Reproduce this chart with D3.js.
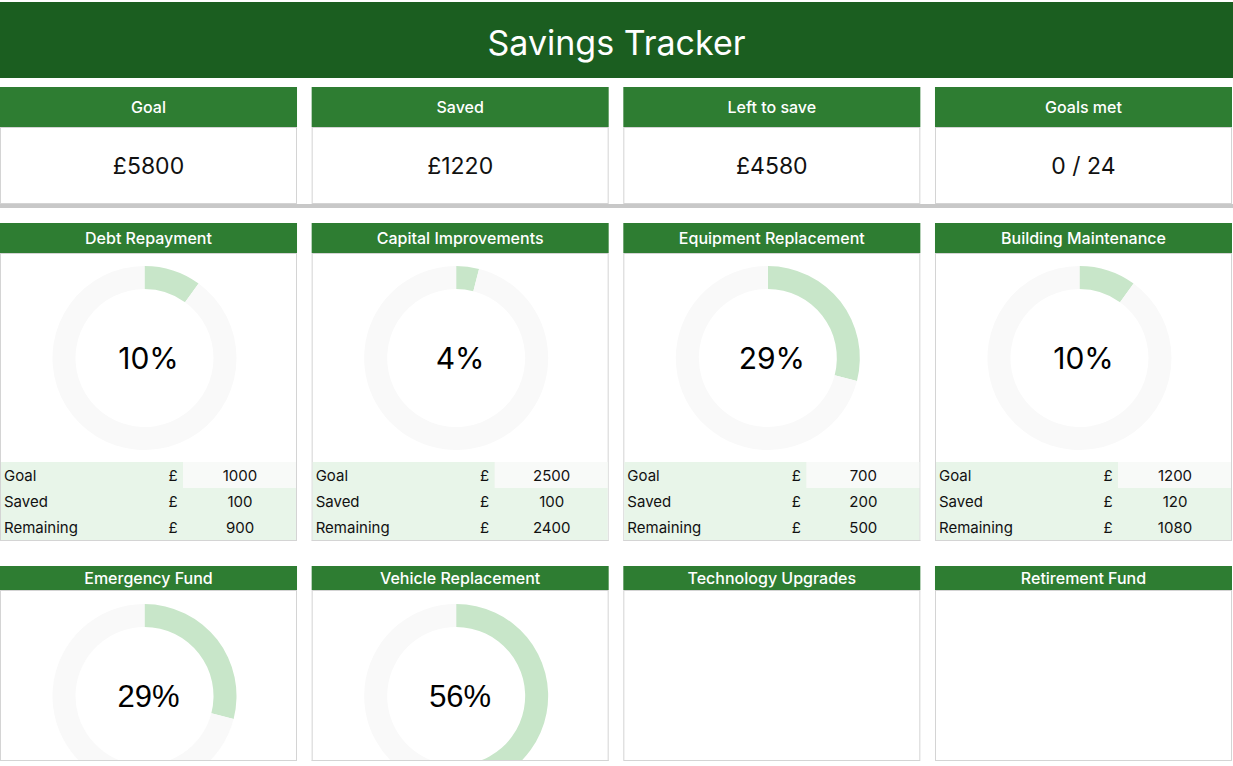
<!DOCTYPE html>
<html>
<head>
<meta charset="utf-8">
<script src="https://cdn.jsdelivr.net/npm/d3@7"></script>
<style>
  html, body { margin: 0; padding: 0; background: #fff; overflow: hidden; }
  svg { display: block; font-family: "Inter", "Noto Sans", sans-serif; }
</style>
</head>
<body>
<svg id="chart" width="1233" height="766"></svg>
<script>
// ---------- data ----------
const title = "Savings Tracker";
const kpiLabels = ["Goal", "Saved", "Left to save", "Goals met"];
const kpiValues = ["£5800", "£1220", "£4580", "0 / 24"];

const categories = ["Debt Repayment", "Capital Improvements", "Equipment Replacement", "Building Maintenance",
                    "Emergency Fund", "Vehicle Replacement", "Technology Upgrades", "Retirement Fund"];
const goalValues = [1000, 2500, 700, 1200, null, null, null, null];
const savedValues = [100, 100, 200, 120, null, null, null, null];
const remainingValues = [900, 2400, 500, 1080, null, null, null, null];
const percentSaved = [0.10, 0.04, 0.29, 0.10, 0.29, 0.56, null, null];
const tableRowLabels = ["Goal", "Saved", "Remaining"];

// ---------- layout ----------
const W = 1233, H = 766;
const svg = d3.select("#chart");
const x = d3.scaleBand().domain(d3.range(4)).range([0, 1232]).paddingInner(0.047).paddingOuter(0);

const C = {
  dark: "#1b5e20", bar: "#2e7d32", border: "#d4d4d4", sep: "#c8c8c8",
  arc: "#c8e6c9", track: "#f9f9f9", tableBg: "#e8f5e9", goalCell: "#f8faf8"
};

// header
svg.append("rect").attr("x", 0).attr("y", 2).attr("width", W).attr("height", 76).attr("fill", C.dark);
svg.append("text").attr("x", W / 2).attr("y", 42).attr("text-anchor", "middle").attr("dominant-baseline", "central")
  .attr("fill", "#fff").attr("font-size", 34).attr("font-weight", 400).text(title);

// KPI cards
const kpi = svg.append("g").selectAll("g").data(kpiLabels).join("g")
  .attr("transform", (d, i) => `translate(${x(i)},0)`);
kpi.append("rect").attr("x", 0.5).attr("y", 127.5).attr("width", x.bandwidth() - 1).attr("height", 76)
  .attr("fill", "#fff").attr("stroke", C.border);
kpi.append("rect").attr("x", 0).attr("y", 87).attr("width", x.bandwidth()).attr("height", 40).attr("fill", C.bar);
kpi.append("text").attr("x", x.bandwidth() / 2).attr("y", 107).attr("text-anchor", "middle")
  .attr("dominant-baseline", "central").attr("fill", "#fff").attr("font-size", 16).attr("font-weight", 500).text(d => d);
kpi.append("text").attr("x", x.bandwidth() / 2).attr("y", 166).attr("text-anchor", "middle")
  .attr("dominant-baseline", "central").attr("fill", "#111").attr("font-size", 23).text((d, i) => kpiValues[i]);

// separator
svg.append("rect").attr("x", 0).attr("y", 204).attr("width", W).attr("height", 4).attr("fill", C.sep);

// category cards
const rowTop = [223, 566];
const headH = [30, 24];
const bodyBottom = [540, 760];
const donutCY = [358, 696];
const outerR = 92, innerR = 69;
const arcGen = d3.arc().innerRadius(innerR).outerRadius(outerR);
const pie = d3.pie().sort(null).value(d => d);

const defs = svg.append("defs");

const cards = svg.append("g").selectAll("g").data(categories).join("g")
  .attr("transform", (d, i) => `translate(${x(i % 4)},0)`);

cards.each(function (name, i) {
  const g = d3.select(this);
  const r = Math.floor(i / 4);
  const top = rowTop[r];
  const hh = headH[r];
  const bw = x.bandwidth();
  const bodyTop = top + hh;
  const bodyH = bodyBottom[r] - bodyTop;

  defs.append("clipPath").attr("id", "clip" + i)
    .append("rect").attr("x", 0).attr("y", bodyTop).attr("width", bw).attr("height", bodyH);

  g.append("rect").attr("x", 0.5).attr("y", bodyTop + 0.5).attr("width", bw - 1).attr("height", bodyH)
    .attr("fill", "#fff").attr("stroke", C.border);
  g.append("rect").attr("x", 0).attr("y", top).attr("width", bw).attr("height", hh).attr("fill", C.bar);
  g.append("text").attr("x", bw / 2).attr("y", top + hh / 2).attr("text-anchor", "middle")
    .attr("dominant-baseline", "central").attr("fill", "#fff").attr("font-size", 16).attr("font-weight", 500).text(name);

  const p = percentSaved[i];
  if (p != null) {
    const cg = g.append("g").attr("clip-path", `url(#clip${i})`);
    const dg = cg.append("g").attr("transform", `translate(${bw / 2 - 4},${donutCY[r]})`);
    const arcs = pie([p, 1 - p]);
    dg.selectAll("path").data(arcs).join("path").attr("d", arcGen)
      .attr("fill", (d, k) => k === 0 ? C.arc : C.track);
    g.append("text").attr("x", bw / 2).attr("y", donutCY[r]).attr("text-anchor", "middle")
      .attr("dominant-baseline", "central").attr("fill", "#000")
      .attr("font-size", r === 0 ? 30 : 31)
      .attr("font-family", r === 0 ? null : "'Liberation Sans', Arial, sans-serif")
      .text(d3.format(".0%")(p));
    // redraw bottom border over clipped donut
    g.append("line").attr("x1", 0).attr("x2", bw).attr("y1", bodyBottom[r] + 0.5).attr("y2", bodyBottom[r] + 0.5)
      .attr("stroke", C.border);
  }

  if (goalValues[i] != null) {
    const vals = [goalValues[i], savedValues[i], remainingValues[i]];
    const rowH = 26, tTop = 462;
    const rows = g.append("g").selectAll("g").data(tableRowLabels).join("g")
      .attr("transform", (d, k) => `translate(0,${tTop + k * rowH})`);
    rows.append("rect").attr("x", 1).attr("y", 0).attr("width", bw - 2).attr("height", rowH).attr("fill", C.tableBg);
    rows.filter((d, k) => k === 0).append("rect").attr("x", 183).attr("y", 0).attr("width", bw - 184)
      .attr("height", rowH).attr("fill", C.goalCell);
    rows.append("text").attr("x", 4).attr("y", rowH / 2).attr("dominant-baseline", "central")
      .attr("font-size", 15).attr("fill", "#111").text(d => d);
    rows.append("text").attr("x", 173).attr("y", rowH / 2).attr("text-anchor", "middle").attr("dominant-baseline", "central")
      .attr("font-size", 15).attr("fill", "#111").text("£");
    rows.append("text").attr("x", 240).attr("y", rowH / 2).attr("text-anchor", "middle").attr("dominant-baseline", "central")
      .attr("font-size", 15).attr("fill", "#111").text((d, k) => vals[k]);
  }
});
</script>
</body>
</html>
